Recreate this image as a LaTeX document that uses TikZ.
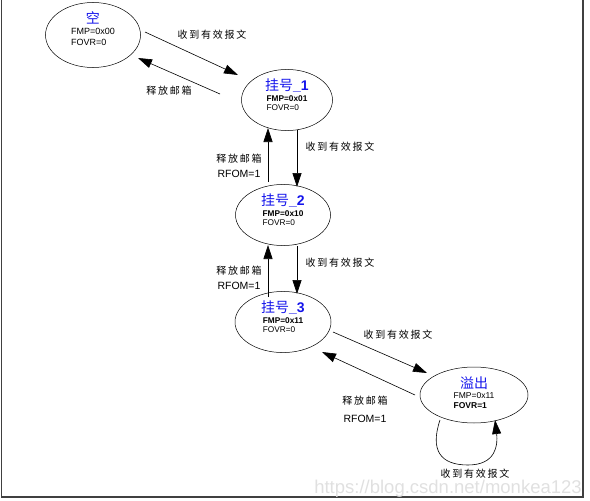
\documentclass[tikz,border=0pt]{standalone}
\usepackage{fontspec}
\setmainfont{Liberation Sans}
\newfontfamily\cjk{Noto Sans CJK SC}
\newfontfamily\cjkl[LetterSpace=18]{Noto Sans CJK SC}
\usetikzlibrary{shapes.geometric,arrows.meta,calc}
\definecolor{ttl}{RGB}{20,20,235}
\newcommand{\ttlcjk}[1]{{\color{ttl}\fontsize{14}{15}\selectfont\cjk #1}}
\newcommand{\ttlnum}[1]{{\color{ttl}\fontsize{14}{15}\selectfont\bfseries\_#1}}
\newcommand{\stinfo}[2]{\begin{tabular}{@{}l@{}}#1\\[-0.5pt]#2\end{tabular}}
\begin{document}
\begin{tikzpicture}[x=1pt,y=-1pt,
  state/.style={draw,ellipse,line width=0.5pt,inner sep=0pt,align=center,font=\fontsize{8.3}{9.5}\selectfont},
  arr/.style={line width=0.6pt,-{Triangle[length=14pt,width=9pt]}},
  lbl/.style={font=\fontsize{10}{15}\selectfont\cjkl,align=center,inner sep=0pt},
  lblb/.style={font=\fontsize{10.5}{15}\selectfont,align=center,inner sep=0pt}]
\useasboundingbox (0,0) rectangle (590,501);
% frame
\draw[line width=1.3pt,black!75] (1.5,0) -- (1.5,497) -- (583,497) -- (583,0);
% watermark
\node[font=\fontsize{18.5}{20}\selectfont,text=black!12,inner sep=0pt] (wm) at (448,489) {https://blog.csdn.net/monkea123};
% states
\node[state,minimum width=95pt,minimum height=50pt,text depth=18pt] (e0) at (93,35)
  {\ttlcjk{空}\\[1pt]{\fontsize{9}{11.5}\selectfont\stinfo{FMP=0x00}{FOVR=0}}};
\node[state,minimum width=91pt,minimum height=54pt,text depth=16pt] (e1) at (287,100)
  {\ttlcjk{挂号}\ttlnum{1}\\[1.5pt]\stinfo{\textbf{FMP=0x01}}{FOVR=0}};
\node[state,minimum width=95pt,minimum height=55pt,text depth=16pt] (e2) at (283,215)
  {\ttlcjk{挂号}\ttlnum{2}\\[1.5pt]\stinfo{\textbf{FMP=0x10}}{FOVR=0}};
\node[state,minimum width=96pt,minimum height=55pt,text depth=16pt] (e3) at (283,322)
  {\ttlcjk{挂号}\ttlnum{3}\\[1.5pt]\stinfo{\textbf{FMP=0x11}}{FOVR=0}};
\node[state,minimum width=108pt,minimum height=56pt,text depth=10pt] (e4) at (474,395)
  {\ttlcjk{溢出}\\[0pt]{\fontsize{8.5}{11}\selectfont\stinfo{FMP=0x11}{\textbf{FOVR=1}}}};
% connectors
\draw[arr] ($(e0)+(52,-3)$) -- ($(e1)+(-49,-25)$);
\draw[arr] ($(e1)+(-67,-6)$) -- ($(e0)+(45,23)$);
\draw[arr] ($(e1)+(10,30)$) -- ($(e2)+(14,-28)$);
\draw[arr] ($(e2)+(-15,-33)$) -- ($(e1)+(-19,28)$);
\draw[arr] ($(e2)+(14,31)$) -- ($(e3)+(14,-28)$);
\draw[arr] ($(e3)+(-15,-25)$) -- ($(e2)+(-15,30)$);
\draw[arr] ($(e3)+(50,10)$) -- ($(e4)+(-47,-22)$);
\draw[arr] ($(e4)+(-59,0)$) -- ($(e3)+(39,30)$);
\draw[arr] ($(e4)+(-34,25)$) .. controls ($(e4)+(-44,55)$) and ($(e4)+(-34,70)$) .. ($(e4)+(-6,70)$)
  .. controls ($(e4)+(22,70)$) and ($(e4)+(24,50)$) .. ($(e4)+(21,25)$);
% labels
\node[lbl] (l1) at (212,35) {收到有效报文};
\node[lbl] (l2) at (169,91) {释放邮箱};
\node[lbl] (l3) at (340,147) {收到有效报文};
\node[lblb] (l4) at (239,166) {{\cjkl\fontsize{10}{15}\selectfont 释放邮箱}\\RFOM=1};
\node[lbl] (l5) at (340,263) {收到有效报文};
\node[lblb] (l6) at (239,278) {{\cjkl\fontsize{10}{15}\selectfont 释放邮箱}\\RFOM=1};
\node[lbl] (l7) at (398,335) {收到有效报文};
\node[lblb] (l8) at (365,409) {{\cjkl\fontsize{10}{15}\selectfont 释放邮箱}\\[3pt]RFOM=1};
\node[lbl] (l9) at (475,474) {收到有效报文};
\end{tikzpicture}
\end{document}
